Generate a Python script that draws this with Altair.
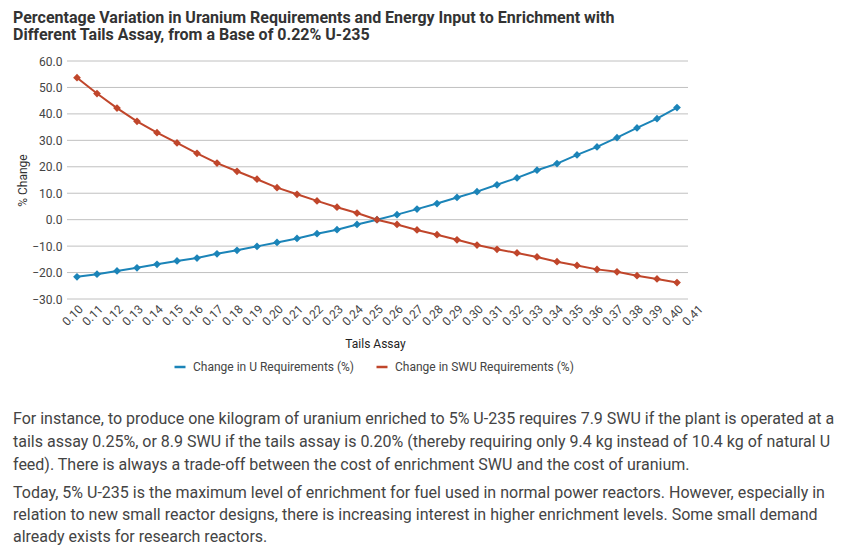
import altair as alt
import pandas as pd

title_lines = [
    "Percentage Variation in Uranium Requirements and Energy Input to Enrichment with",
    "Different Tails Assay, from a Base of 0.22% U-235",
]
series_names = ["Change in U Requirements (%)", "Change in SWU Requirements (%)"]
series_colors = ["#1b84b8", "#c0462b"]

assay = [0.10, 0.11, 0.12, 0.13, 0.14, 0.15, 0.16, 0.17, 0.18, 0.19, 0.20,
         0.21, 0.22, 0.23, 0.24, 0.25, 0.26, 0.27, 0.28, 0.29, 0.30, 0.31,
         0.32, 0.33, 0.34, 0.35, 0.36, 0.37, 0.38, 0.39, 0.40]
u_change = [-21.6, -20.6, -19.4, -18.2, -16.9, -15.6, -14.5, -12.9, -11.6, -10.1, -8.6,
            -7.1, -5.3, -3.8, -1.8, 0.0, 1.9, 4.0, 6.1, 8.4, 10.6, 13.2,
            15.8, 18.7, 21.2, 24.5, 27.5, 31.0, 34.7, 38.2, 42.4]
swu_change = [53.7, 47.7, 42.2, 37.2, 32.9, 29.0, 25.1, 21.4, 18.3, 15.3, 12.1,
              9.6, 7.1, 4.7, 2.5, 0.0, -1.8, -3.9, -5.7, -7.6, -9.6, -11.2,
              -12.6, -14.1, -15.9, -17.3, -18.8, -19.7, -21.2, -22.4, -23.8]

x_ticks = [0.10, 0.11, 0.12, 0.13, 0.14, 0.15, 0.16, 0.17, 0.18, 0.19, 0.20,
           0.21, 0.22, 0.23, 0.24, 0.25, 0.26, 0.27, 0.28, 0.29, 0.30, 0.31,
           0.32, 0.33, 0.34, 0.35, 0.36, 0.37, 0.38, 0.39, 0.40, 0.41]
y_ticks = [-30, -20, -10, 0, 10, 20, 30, 40, 50, 60]

para1 = [
    "For instance, to produce one kilogram of uranium enriched to 5% U-235 requires 7.9 SWU if the plant is operated at a",
    "tails assay 0.25%, or 8.9 SWU if the tails assay is 0.20% (thereby requiring only 9.4 kg instead of 10.4 kg of natural U",
    "feed). There is always a trade-off between the cost of enrichment SWU and the cost of uranium.",
]
para2 = [
    "Today, 5% U-235 is the maximum level of enrichment for fuel used in normal power reactors. However, especially in",
    "relation to new small reactor designs, there is increasing interest in higher enrichment levels. Some small demand",
    "already exists for research reactors.",
]

df = pd.concat([
    pd.DataFrame({"assay": assay, "value": u_change, "series": series_names[0]}),
    pd.DataFrame({"assay": assay, "value": swu_change, "series": series_names[1]}),
])
grid_df = pd.DataFrame({"tick": y_ticks})

FONT = "Roboto"
X_SCALE = alt.Scale(domain=[0.095, 0.415], nice=False, zero=False)
Y_SCALE = alt.Scale(domain=[-30, 60], nice=False)
Y_AXIS = alt.Axis(
    values=y_ticks, format=".1f", grid=False, domain=False, ticks=False,
    labelPadding=5, labelFontSize=12, labelColor="#444", labelFont=FONT,
    title="% Change", titleFont=FONT, titleFontSize=12,
    titleFontWeight="normal", titleColor="#333",
    titleX=-45, titleY=119, titleBaseline="middle", titleAngle=-90,
    titleAnchor="middle",
)

grid = alt.Chart(grid_df).mark_rule(color="#c0c0c0", strokeWidth=1).encode(
    y=alt.Y("tick:Q", scale=Y_SCALE, axis=Y_AXIS, title="% Change"),
    x=alt.value(0),
    x2=alt.value(621),
)

lines = alt.Chart(df).mark_line(
    strokeWidth=2,
    point=alt.OverlayMarkDef(shape="diamond", size=60, filled=True, opacity=1),
).encode(
    x=alt.X(
        "assay:Q",
        scale=X_SCALE,
        axis=alt.Axis(
            values=x_ticks, format=".2f", labelAngle=-45, grid=False, domain=False,
            ticks=False, labelPadding=4, labelFontSize=12, labelColor="#444",
            labelFont=FONT, labelOverlap=False, labelFlush=False,
            title="Tails Assay", titleFont=FONT, titleFontSize=12,
            titleFontWeight="normal", titleColor="#222",
            titleX=308, titleY=44, titleBaseline="middle", titleAnchor="middle",
        ),
    ),
    y=alt.Y("value:Q", scale=Y_SCALE, axis=Y_AXIS, title="% Change"),
    color=alt.Color(
        "series:N",
        scale=alt.Scale(domain=series_names, range=series_colors),
        legend=alt.Legend(
            title=None, orient="none", direction="horizontal",
            legendX=106, legendY=299, symbolType="stroke", symbolSize=121,
            symbolStrokeWidth=2.5, labelFontSize=12, labelFont=FONT,
            labelColor="#444", columnPadding=16, labelOffset=6, labelLimit=0,
        ),
    ),
)

text_src = pd.DataFrame({"k": [0]})
p1 = alt.Chart(text_src).mark_text(
    text=para1, align="left", baseline="alphabetic", font=FONT, fontSize=16,
    color="#444", lineHeight=23,
).encode(x=alt.value(-54), y=alt.value(363))
p2 = alt.Chart(text_src).mark_text(
    text=para2, align="left", baseline="alphabetic", font=FONT, fontSize=16,
    color="#444", lineHeight=22,
).encode(x=alt.value(-54), y=alt.value(437))

chart = alt.layer(grid, lines, p1, p2).properties(
    width=640,
    height=238,
    title=alt.TitleParams(
        text=title_lines, anchor="start", frame="group", dx=-54, offset=0, dy=4,
        font=FONT, fontSize=16, fontWeight="bold", color="#333",
        lineHeight=17.5, baseline="bottom",
    ),
    autosize=alt.AutoSizeParams(type="none"),
    padding={"left": 59, "top": 53, "right": 128, "bottom": 247},
).configure_view(stroke=None)

chart.save("out.html", embed_options={"renderer": "svg", "actions": False})
